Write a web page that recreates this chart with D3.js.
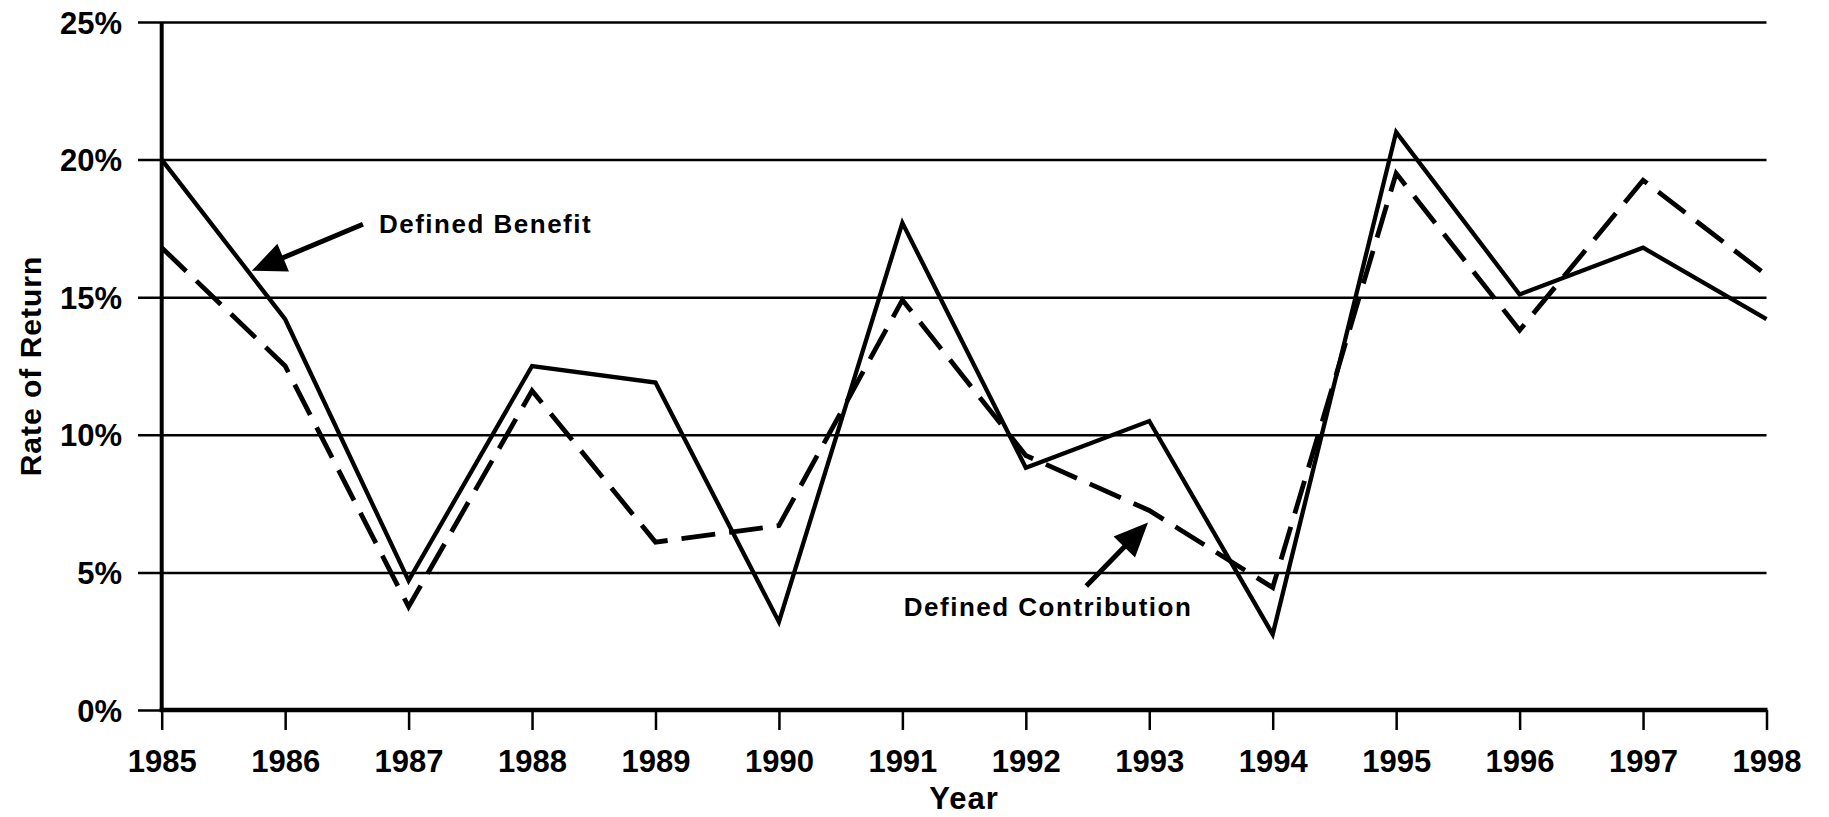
<!DOCTYPE html>
<html>
<head>
<meta charset="utf-8">
<script src="https://cdn.jsdelivr.net/npm/d3@7"></script>
<style>
  html, body { margin: 0; padding: 0; background: #fff; }
  svg { display: block; }
  text { font-family: "Liberation Sans", Arial, sans-serif; font-weight: bold; fill: #000; }
</style>
</head>
<body>
<svg id="chart" width="1829" height="817"></svg>
<script>
const years = [1985, 1986, 1987, 1988, 1989, 1990, 1991, 1992, 1993, 1994, 1995, 1996, 1997, 1998];
const definedBenefit = [20.0, 14.2, 4.7, 12.5, 11.9, 3.2, 17.7, 8.8, 10.5, 2.75, 21.0, 15.1, 16.8, 14.2];
const definedContribution = [16.8, 12.5, 3.75, 11.6, 6.1, 6.7, 14.9, 9.25, 7.25, 4.45, 19.5, 13.8, 19.25, 15.8];
const yTicks = [0, 5, 10, 15, 20, 25];
const yTickLabels = ["0%", "5%", "10%", "15%", "20%", "25%"];
const seriesNames = ["Defined Benefit", "Defined Contribution"];
// annotation positions in data units: [text x, text y, arrow tail x, tail y, tip x, tip y]
const annotDB = [1986.76, 17.34, 1986.63, 17.65, 1985.73, 15.96];
const annotDC = [1992.18, 3.42, 1992.49, 4.51, 1992.99, 6.81];

(function () {
const svg = d3.select("#chart");
svg.append("rect").attr("width", 1829).attr("height", 817).attr("fill", "#fff");

const pLeft = 161.7, pRight = 1766.5, pTop = 22, pBottom = 710;
const x = d3.scaleLinear().domain([1985, 1998]).range([pLeft, pRight]);
const y = d3.scaleLinear().domain([0, 25]).range([pBottom, pTop]);

// gridlines + y labels
const yAxis = d3.axisLeft(y)
  .tickValues(yTicks)
  .tickFormat((d, i) => yTickLabels[i])
  .tickSize(-(pRight - 138))
  .tickPadding(16);
const gy = svg.append("g").attr("transform", "translate(138,0)").call(yAxis);
gy.select(".domain").remove();
gy.selectAll(".tick line").attr("stroke", "#000").attr("stroke-width", 2.5);
gy.selectAll(".tick text")
  .attr("font-size", 31).attr("dy", "0.36em")
  .style("font-family", "'Liberation Sans', Arial, sans-serif").style("font-weight", "bold")
  .attr("fill", "#000");

// x axis
const xAxis = d3.axisBottom(x)
  .tickValues(years)
  .tickFormat(d3.format("d"))
  .tickSize(20)
  .tickPadding(20);
const gx = svg.append("g").attr("transform", `translate(0,${pBottom})`).call(xAxis);
gx.select(".domain").remove();
gx.selectAll(".tick line").attr("stroke", "#000").attr("stroke-width", 2.5);
gx.selectAll(".tick text")
  .attr("font-size", 31)
  .style("font-family", "'Liberation Sans', Arial, sans-serif").style("font-weight", "bold")
  .attr("fill", "#000");

// axis lines
svg.append("line").attr("x1", x(1985)).attr("x2", x(1985)).attr("y1", y(25)).attr("y2", y(0))
  .attr("stroke", "#000").attr("stroke-width", 4);
svg.append("line").attr("x1", x(1985) - 2).attr("x2", x(1998) + 1).attr("y1", y(0)).attr("y2", y(0))
  .attr("stroke", "#000").attr("stroke-width", 4.5);

// lines
const line = d3.line().x((d, i) => x(years[i])).y(d => y(d));
svg.append("path").datum(definedContribution)
  .attr("d", line).attr("fill", "none").attr("stroke", "#000")
  .attr("stroke-width", 4.8).attr("stroke-dasharray", "34,14").attr("stroke-linejoin", "miter");
svg.append("path").datum(definedBenefit)
  .attr("d", line).attr("fill", "none").attr("stroke", "#000")
  .attr("stroke-width", 4.3).attr("stroke-linejoin", "miter");

// axis titles
svg.append("text").attr("x", (pLeft + pRight) / 2).attr("y", 809)
  .attr("text-anchor", "middle").attr("font-size", 31).style("letter-spacing", "1px").text("Year");
svg.append("text").attr("transform", `translate(41,${(pTop + pBottom) / 2}) rotate(-90)`)
  .attr("text-anchor", "middle").attr("font-size", 30).style("letter-spacing", "1px").text("Rate of Return");

// annotations
function annotate(a, label, anchor) {
  const [tx, ty, x0, y0, x1, y1] = a;
  const px0 = x(x0), py0 = y(y0), px1 = x(x1), py1 = y(y1);
  const dx = px1 - px0, dy = py1 - py0, L = Math.hypot(dx, dy);
  const ux = dx / L, uy = dy / L;
  const hl = 34, hw = 15;
  const bx = px1 - ux * hl, by = py1 - uy * hl;
  svg.append("line").attr("x1", px0).attr("y1", py0).attr("x2", bx + ux * 4).attr("y2", by + uy * 4)
    .attr("stroke", "#000").attr("stroke-width", 5);
  svg.append("polygon")
    .attr("points", [[px1, py1], [bx - uy * hw, by + ux * hw], [bx + uy * hw, by - ux * hw]].map(p => p.join(",")).join(" "))
    .attr("fill", "#000");
  svg.append("text").attr("x", x(tx)).attr("y", y(ty)).attr("text-anchor", anchor)
    .attr("font-size", 26).style("letter-spacing", "1.5px").text(label);
}
annotate(annotDB, seriesNames[0], "start");
annotate(annotDC, seriesNames[1], "middle");
})();
</script>
</body>
</html>
